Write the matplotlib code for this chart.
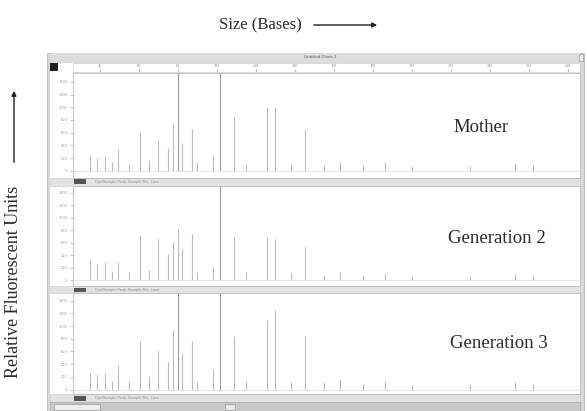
import matplotlib
matplotlib.use("Agg")
import matplotlib.pyplot as plt
from matplotlib.patches import Rectangle, FancyArrowPatch

W, H = 587, 411

# データ (bases, RFU)
sizes = [35, 38.5, 42.6, 46, 49.2, 55, 60.5, 65, 69.7, 75, 77.4, 80, 82, 87.2, 90,
         98, 101.5, 109, 115, 125.6, 129.7, 138, 145, 155, 163, 175, 186, 200,
         230, 253, 262]
mother = [230, 200, 230, 140, 350, 110, 610, 170, 480, 360, 740, 2500, 430, 650, 140,
          230, 2500, 840, 110, 1000, 1000, 110, 650, 90, 140, 90, 140, 70,
          70, 115, 90]
gen2 = [320, 260, 290, 140, 290, 140, 720, 170, 660, 430, 620, 820, 500, 750, 140,
        220, 2500, 690, 140, 690, 660, 115, 530, 90, 140, 90, 115, 70,
        70, 100, 70]
gen3 = [260, 230, 260, 140, 390, 140, 760, 220, 600, 430, 940, 2500, 580, 760, 140,
        320, 2500, 840, 140, 1090, 1250, 115, 840, 115, 170, 90, 140, 70,
        90, 115, 90]
panels = ["Mother", "Generation 2", "Generation 3"]
ruler_ticks = list(range(40, 281, 20))
rfu_ticks = list(range(0, 1401, 200))

plt.rcParams['font.family'] = ['Liberation Serif', 'DejaVu Serif']

fig = plt.figure(figsize=(W / 100, H / 100), dpi=100)


def px(x0, y0, x1, y1):
    # ピクセル座標 -> figure座標
    return [x0 / W, 1 - y1 / H, (x1 - x0) / W, (y1 - y0) / H]


def box(x0, y0, x1, y1, fc, ec="none", lw=0.5, z=-5):
    fig.patches.append(Rectangle((x0 / W, 1 - y1 / H), (x1 - x0) / W, (y1 - y0) / H,
                                 transform=fig.transFigure, fc=fc, ec=ec, lw=lw,
                                 zorder=z))


# ウィンドウ枠
box(47, 53, 584, 411, "#d8d8d8", "#aaaaaa", z=-10)
box(50, 63, 580, 395, "white", z=-9)
box(50, 53, 581, 62, "#dcdcdc")
fig.text(320 / W, 1 - 57.5 / H, "Untitled Chart 1", fontsize=3, color="#555",
         ha="center", va="center", family="DejaVu Sans")
box(50, 63, 58, 71, "#222222", z=5)
box(579, 54, 583, 61, "#eeeeee", "#999")

# 上部ルーラー
xl = (26.2, 286.2)
rul = fig.add_axes(px(73, 63, 580, 72))
rul.set_xlim(*xl)
rul.set_ylim(0, 1)
rul.set_yticks([])
rul.set_xticks(ruler_ticks)
rul.tick_params(axis="x", direction="in", length=2, pad=-6, labelsize=3,
                labelcolor="#888", color="#bbb", top=False)
for s in rul.spines.values():
    s.set_color("#cccccc")
    s.set_linewidth(0.5)

# パネル
rects = [(73, 177.7), (186, 286), (293, 394)]
strips = [(177.7, 186), (286, 293), (394, 402)]
ylims = [(-110, 1540), (-90, 1510), (-70, 1520)]
datas = [mother, gen2, gen3]
label_pos = [(481, 127), (497, 238), (499, 343)]
for i, ((y0, y1), data, name) in enumerate(zip(rects, datas, panels)):
    ax = fig.add_axes(px(73, y0, 580, y1))
    ax.set_xlim(*xl)
    ax.set_ylim(*ylims[i])
    col = ["#999999" if d > 1500 else "#bbbbbb" for d in data]
    ax.vlines(sizes, 0, data, colors=col, lw=0.8)
    ax.axhline(0, color="#dddddd", lw=0.5)
    ax.set_xticks([])
    ax.set_yticks(rfu_ticks)
    ax.set_yticklabels([str(t) for t in rfu_ticks], family="DejaVu Sans")
    ax.tick_params(axis="y", length=2, width=0.5, labelsize=2.5, labelcolor="#999",
                   color="#aaa", pad=2)
    for s in ax.spines.values():
        s.set_color("#bbbbbb")
        s.set_linewidth(0.6)
    fig.text(label_pos[i][0] / W, 1 - label_pos[i][1] / H, name, fontsize=13.5,
             ha="center", va="center", color="#2a2a2a")
    # パネル下のステータスバー
    sy, ey = strips[i]
    box(50, sy, 580, ey, "#e2e2e2", "#c8c8c8", 0.4)
    box(74, sy + 1.5, 86, ey - 1.5, "#555555")
    fig.text(95 / W, 1 - (sy + ey) / 2 / H, "Dye/Sample Peak, Sample File, Lane",
             fontsize=2.5, color="#888", va="center", family="DejaVu Sans")

# 下のスクロールバー
box(50, 402, 580, 411, "#c8c8c8", "#aaaaaa")
box(54, 403.5, 100, 410, "#eeeeee", "#999")
box(225, 403.5, 235, 410, "#e8e8e8", "#999")

# 軸ラベル
fig.text(260 / W, 1 - 25 / H, "Size (Bases)", fontsize=12, ha="center", va="center",
         color="#2a2a2a")
fig.patches.append(FancyArrowPatch((311 / W, 1 - 25 / H), (380 / W, 1 - 25 / H),
                                   transform=fig.transFigure, arrowstyle="-|>",
                                   mutation_scale=7, lw=1.0, color="#222"))
fig.text(14 / W, 1 - 282 / H, "Relative Fluorescent Units", fontsize=13,
         rotation=90, ha="center", va="center", color="#2a2a2a")
fig.patches.append(FancyArrowPatch((14 / W, 1 - 165 / H), (14 / W, 1 - 88 / H),
                                   transform=fig.transFigure, arrowstyle="-|>",
                                   mutation_scale=7, lw=1.0, color="#222"))

fig.savefig("out.png", dpi=100)
